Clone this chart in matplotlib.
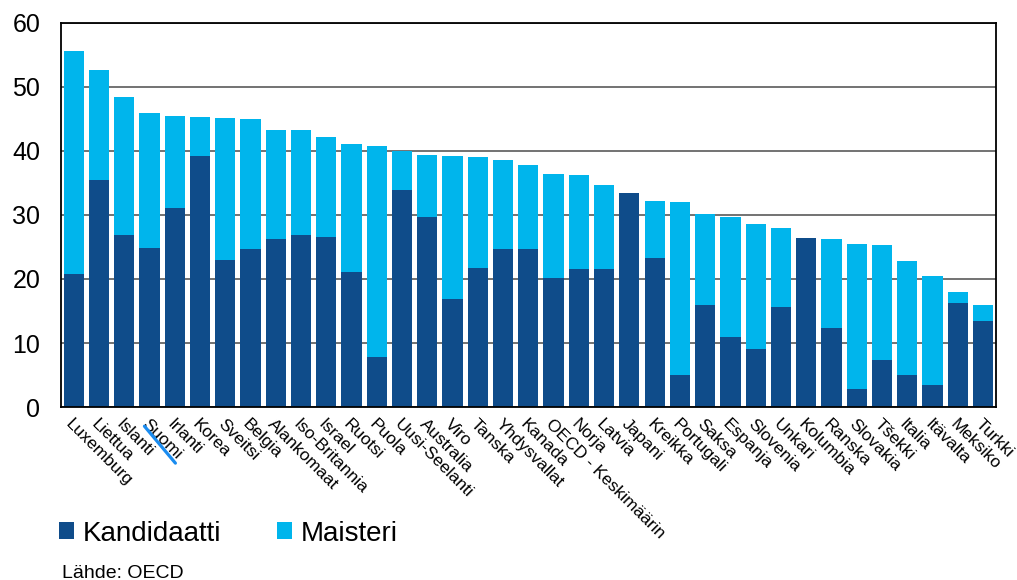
import matplotlib
matplotlib.use("Agg")
import matplotlib.pyplot as plt
from matplotlib.transforms import offset_copy
import numpy as np

plt.rcParams['font.family'] = ['Liberation Sans', 'DejaVu Sans']

# Countries, ordered as in the chart
countries = ["Luxemburg", "Liettua", "Islanti", "Suomi", "Irlanti", "Korea", "Sveitsi",
             "Belgia", "Alankomaat", "Iso-Britannia", "Israel", "Ruotsi", "Puola",
             "Uusi-Seelanti", "Australia", "Viro", "Tanska", "Yhdysvallat", "Kanada",
             "OECD - Keskimäärin", "Norja", "Latvia", "Japani", "Kreikka", "Portugali",
             "Saksa", "Espanja", "Slovenia", "Unkari", "Kolumbia", "Ranska", "Slovakia",
             "Tšekki", "Italia", "Itävalta", "Meksiko", "Turkki"]

# bachelor share (dark part)
kandidaatti = [20.7, 35.5, 26.9, 24.9, 31.0, 39.2, 23.0, 24.6, 26.3, 26.9, 26.6, 21.1, 7.8,
               33.9, 29.6, 16.8, 21.7, 24.7, 24.7, 20.2, 21.6, 21.5, 33.4, 23.3, 5.0,
               15.9, 11.0, 9.1, 15.6, 26.4, 12.4, 2.9, 7.4, 5.0, 3.5, 16.3, 13.4]

# total height of each bar (kandidaatti + maisteri)
totals = [55.5, 52.6, 48.4, 45.9, 45.5, 45.3, 45.1, 44.9, 43.3, 43.2, 42.1, 41.0, 40.8,
          39.9, 39.4, 39.2, 39.0, 38.5, 37.8, 36.4, 36.3, 34.6, 33.4, 32.2, 32.0,
          30.2, 29.7, 28.6, 28.0, 26.4, 26.3, 25.4, 25.3, 22.8, 20.5, 18.0, 16.0]

maisteri = [round(t - k, 1) for t, k in zip(totals, kandidaatti)]

highlight = "Suomi"

dark = "#0F4C8A"
light = "#00B5EC"

fig = plt.figure(figsize=(10.17, 5.8), dpi=100)
ax = fig.add_axes([0.060, 0.298, 0.919, 0.663])

x = np.arange(len(countries))
ax.bar(x, kandidaatti, width=0.8, color=dark, label="Kandidaatti", zorder=2)
ax.bar(x, maisteri, width=0.8, bottom=kandidaatti, color=light, label="Maisteri", zorder=2)

ax.set_xlim(-0.5, len(countries) - 0.5)
ax.set_ylim(0, 60)
ax.set_yticks(range(0, 61, 10))
ax.yaxis.grid(True, color="#5a5a5a", linewidth=1.2)
ax.set_axisbelow(True)

for s in ax.spines.values():
    s.set_color("black")
    s.set_linewidth(1.3)

ax.tick_params(axis="y", length=0, pad=15, labelsize=18)
ax.tick_params(axis="x", length=0, pad=7)
ax.set_xticks(x)
ax.set_xticklabels(countries, rotation=-45, ha="left", va="top",
                   rotation_mode="anchor", fontsize=12.5)

# blue highlight line across the Suomi label
i = countries.index(highlight)
ax.annotate("", xy=(i, 0), xycoords=offset_copy(ax.transData, fig=fig, x=-3.6, y=-13.7, units="points"),
            xytext=(i, 0), textcoords=offset_copy(ax.transData, fig=fig, x=18.7, y=-40.3, units="points"),
            arrowprops=dict(arrowstyle="-", color="#1a8cf0", lw=2.3, shrinkA=0, shrinkB=0),
            annotation_clip=False)

fig.legend(loc="center left", bbox_to_anchor=(0.058, 0.080), ncol=2, frameon=False,
           fontsize=20, handlelength=0.55, handleheight=0.55, handletextpad=0.3,
           columnspacing=2.0, borderpad=0, borderaxespad=0)

fig.text(0.061, 0.004, "Lähde: OECD", fontsize=14, ha="left", va="baseline")

fig.savefig("out.png", dpi=100)
